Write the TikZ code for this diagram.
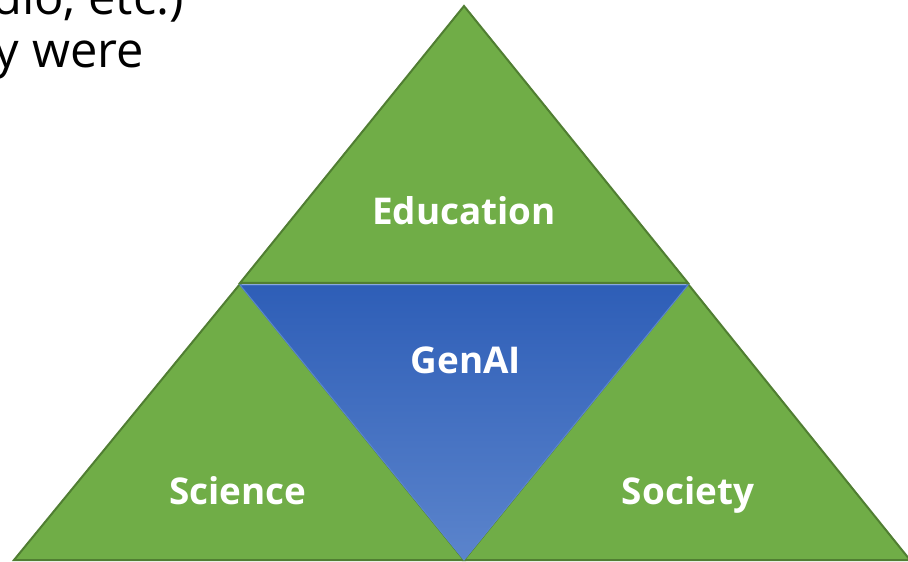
\documentclass[tikz,border=0pt]{standalone}
\usepackage{fontspec}
\setmainfont{Open Sans}
\definecolor{gfill}{HTML}{70AD47}
\definecolor{gline}{HTML}{507E32}
\definecolor{btop}{HTML}{2E5EB7}
\definecolor{bbot}{HTML}{5B84CC}
\definecolor{bline}{HTML}{5A86D0}
\tikzset{
  greentri/.style={fill=gfill,draw=gline,line width=2bp,line join=miter},
  bluetri/.style={top color=btop,bottom color=bbot,draw=bline,line width=1bp},
  lbl/.style={text=white,font=\fontsize{37}{42}\selectfont\bfseries,anchor=base},
  bodytext/.style={text=black,font=\fontsize{49}{56}\selectfont,anchor=base east,inner sep=0pt}
}
\begin{document}
\begin{tikzpicture}[x=1bp,y=-1bp]
\useasboundingbox (0,0) rectangle (908,562);
\begin{scope}
\clip (0,0) rectangle (908,562);
\node[bodytext] (l1) at (184,15) {dio, etc.)};
\node[bodytext] (l2) at (144,68) {y were};
\end{scope}
\draw[greentri] (464,6) -- (688,283) -- (240,283) -- cycle;
\draw[greentri] (240,284) -- (464,560) -- (14,560) -- cycle;
\draw[greentri] (688,284) -- (910,560) -- (464,560) -- cycle;
\shade[bluetri] (240,285) -- (688,285) -- (464,560) -- cycle;
\node[lbl] (edu) at (464,225) {Education};
\node[lbl] (gen) at (466,373) {GenAI};
\node[lbl] (sci) at (238,504) {Science};
\node[lbl] (soc) at (688,504) {Society};
\end{tikzpicture}
\end{document}
